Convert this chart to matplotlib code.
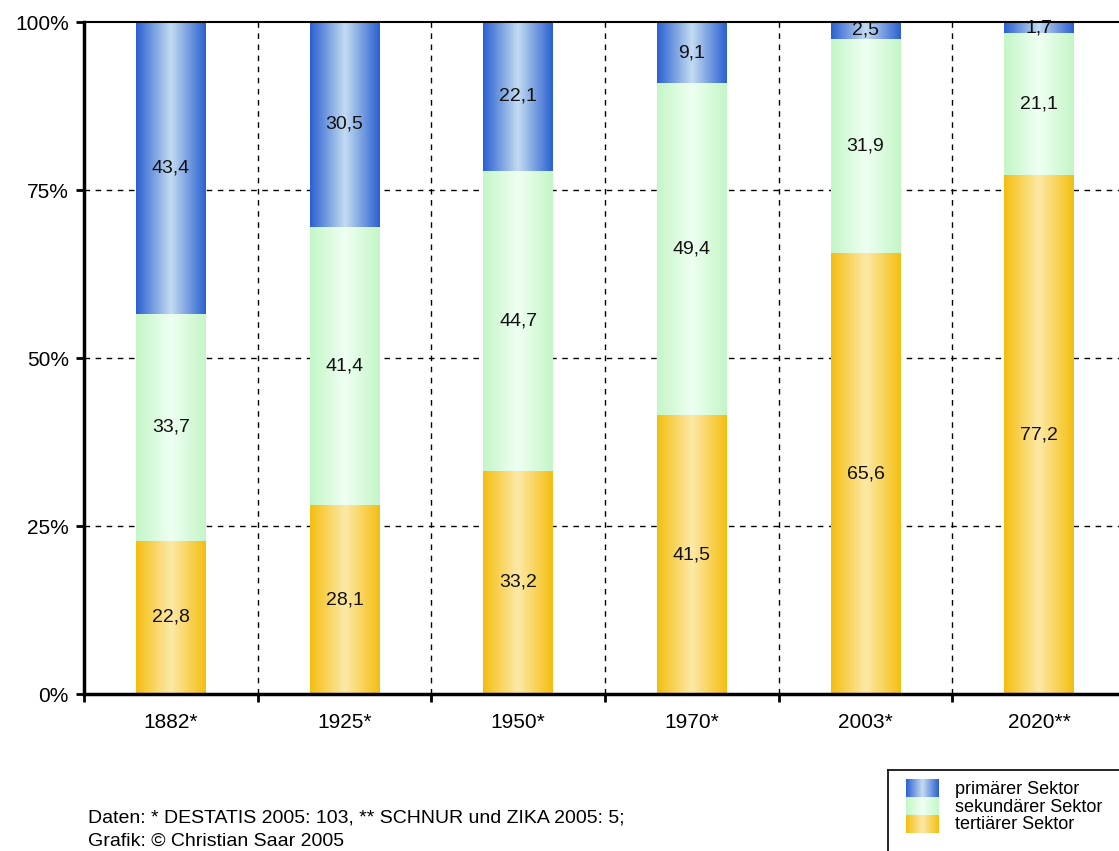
import matplotlib
matplotlib.use("Agg")
import matplotlib.pyplot as plt
import numpy as np
from matplotlib.colors import LinearSegmentedColormap

plt.rcParams['font.family'] = ['Liberation Sans', 'DejaVu Sans']

jahre = ["1882*", "1925*", "1950*", "1970*", "2003*", "2020**"]
primaer = [43.4, 30.5, 22.1, 9.1, 2.5, 1.7]
sekundaer = [33.7, 41.4, 44.7, 49.4, 31.9, 21.1]
tertiaer = [22.8, 28.1, 33.2, 41.5, 65.6, 77.2]
sektoren = ["primärer Sektor", "sekundärer Sektor", "tertiärer Sektor"]

# Farbverläufe: Rand -> Mitte -> Rand
verlauf = {
    "primaer": LinearSegmentedColormap.from_list("p", ["#2a60d0", "#c4dcf2", "#2a60d0"]),
    "sekundaer": LinearSegmentedColormap.from_list("s", ["#c4f6c6", "#effff3", "#c4f6c6"]),
    "tertiaer": LinearSegmentedColormap.from_list("t", ["#f4be10", "#fde9a8", "#f4be10"]),
}
grad = np.linspace(0, 1, 256).reshape(1, -1)

fig = plt.figure(figsize=(11.19, 8.51), dpi=100)
ax = fig.add_axes([84 / 1119, 157 / 851, 1042 / 1119, 672 / 851])

x = np.arange(len(jahre))
breite = 0.40


def balken(ax, x0, y0, h, cmap):
    ax.imshow(grad, cmap=cmap, aspect="auto", interpolation="bilinear",
              extent=[x0 - breite / 2, x0 + breite / 2, y0, y0 + h], zorder=2)


for i in range(len(jahre)):
    summe = primaer[i] + sekundaer[i] + tertiaer[i]
    werte = [(tertiaer[i], "tertiaer"), (sekundaer[i], "sekundaer"), (primaer[i], "primaer")]
    unten = 0
    for wert, key in werte:
        h = wert / summe * 100
        balken(ax, x[i], unten, h, verlauf[key])
        ax.text(x[i], unten + h / 2, f"{wert:.1f}".replace(".", ","),
                ha="center", va="center", fontsize=14, color="#111111", zorder=3)
        unten += h

ax.set_xlim(-0.5, len(jahre) - 0.5)
ax.set_ylim(0, 100)

# Gitterlinien
for y in [25, 50, 75]:
    ax.axhline(y, color="black", lw=1, ls=(0, (4, 4)), zorder=1)
for xb in np.arange(0.5, len(jahre) - 0.5, 1):
    ax.axvline(xb, color="black", lw=1, ls=(0, (4, 4)), zorder=1)

ax.set_yticks([0, 25, 50, 75, 100])
ax.set_yticklabels(["0%", "25%", "50%", "75%", "100%"], fontsize=15)
ax.set_xticks(np.arange(-0.5, len(jahre), 1))
ax.set_xticklabels([])
ax.set_xticks(x, minor=True)
ax.set_xticklabels(jahre, minor=True, fontsize=15)
ax.tick_params(axis="x", which="minor", length=0, pad=14)
ax.tick_params(axis="x", which="major", length=6, width=2, direction="out")
ax.tick_params(axis="y", length=6, width=2, direction="out", pad=5)

ax.spines["left"].set_linewidth(2.5)
ax.spines["bottom"].set_linewidth(2.5)
ax.spines["top"].set_linewidth(1.5)
ax.spines["right"].set_visible(False)

# Quellenangabe
fig.text(88 / 1119, 1 - 818 / 851, "Daten: * DESTATIS 2005: 103, ** SCHNUR und ZIKA 2005: 5;",
         fontsize=14, va="center", ha="left")
fig.text(88 / 1119, 1 - 841 / 851, "Grafik: © Christian Saar 2005",
         fontsize=14, va="center", ha="left")

# Legende als eigene Achse mit Verlaufsfeldern
lax = fig.add_axes([888 / 1119, -0.02, 0.25, (851 - 770) / 851 + 0.02])
lax.set_xlim(0, 260)
lax.set_ylim(100, 0)
lax.set_xticks([])
lax.set_yticks([])
for s in lax.spines.values():
    s.set_linewidth(1.2)
for k, (name, key) in enumerate(zip(sektoren, ["primaer", "sekundaer", "tertiaer"])):
    y0 = 10 + k * 18
    lax.imshow(grad, cmap=verlauf[key], aspect="auto", interpolation="bilinear",
               extent=[17, 47, y0 + 18, y0])
    lax.text(62, y0 + 10, name, fontsize=13, va="center", ha="left")

fig.savefig("out.png", dpi=100)
